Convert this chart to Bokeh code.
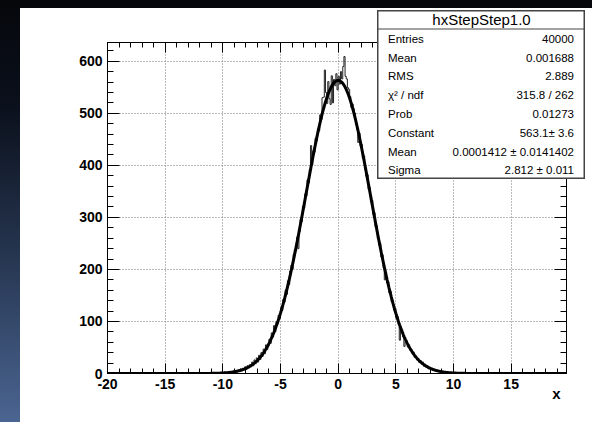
import numpy as np
from bokeh.plotting import figure
from bokeh.models import FixedTicker, LinearAxis, Range1d, Span, Div, ColumnDataSource
from bokeh.core.properties import value
from bokeh.layouts import row, column
from bokeh.embed import file_html
from bokeh.resources import INLINE

# ---------------- data ----------------
hist_title = "hxStepStep1.0"
x_ticks = [-20, -15, -10, -5, 0, 5, 10, 15]
y_ticks = [0, 100, 200, 300, 400, 500, 600]
x_label = "x"

bin_lo = -11.0
bin_width = 0.1
counts = [
    0, 0, 0, 1, 0, 0, 1, 0, 2, 0,
    1, 3, 1, 2, 1, 4, 2, 1, 3, 5,
    2, 6, 3, 7, 4, 9, 5, 10, 7, 13,
    8, 15, 11, 17, 13, 22, 15, 26, 19, 30,
    22, 35, 27, 40, 33, 47, 38, 55, 46, 52,
    66, 58, 78, 70, 92, 80, 99, 95, 112, 106,
    126, 121, 142, 137, 160, 152, 178, 171, 197, 208,
    201, 229, 238, 236, 262, 240, 272, 296, 292, 321,
    318, 345, 341, 372, 366, 392, 438, 401, 428, 425,
    452, 447, 470, 466, 497, 488, 530, 531, 583, 540,
    519, 561, 528, 517, 572, 520, 565, 553, 576, 545,
    571, 556, 580, 566, 590, 609, 571, 566, 549, 546,
    532, 511, 518, 509, 500, 478, 469, 444, 462, 437,
    440, 414, 418, 392, 379, 382, 354, 357, 330, 333,
    306, 309, 282, 284, 259, 247, 250, 224, 228, 203,
    180, 195, 174, 176, 155, 158, 138, 140, 122, 125,
    107, 110, 94, 64, 89, 84, 70, 52, 61, 63,
    51, 55, 45, 47, 38, 41, 31, 34, 26, 29,
    21, 25, 18, 22, 14, 18, 12, 15, 9, 12,
    8, 10, 6, 8, 5, 7, 4, 5, 3, 5,
    2, 3, 2, 3, 1, 2, 1, 2, 0, 1,
    2, 0, 1, 0, 1, 0, 0, 1, 0, 0,
]
hist_lo, hist_hi = -20.0, 20.0

fit_constant = 563.1
fit_mean = 0.0001412
fit_sigma = 2.812

stat_names = ["Entries", "Mean", "RMS", "\u03c7\u00b2 / ndf", "Prob", "Constant", "Mean", "Sigma"]
stat_values = ["40000", "0.001688", "2.889", "315.8 / 262", "0.01273",
               "563.1\u00b1 3.6", "0.0001412 \u00b1 0.0141402", "2.812 \u00b1 0.011"]

# ---------------- layout constants ----------------
x_lo, x_hi = -20.0, 19.8
y_lo, y_hi = 0.0, 636.0
FL, FT, FW, FH = 107, 42, 459, 331   # frame in page pixels
OX, OY = 20, 8                        # figure offset in page
FONT = "Liberation Sans"

p = figure(frame_width=FW, frame_height=FH,
           x_range=Range1d(x_lo, x_hi), y_range=Range1d(y_lo, y_hi),
           min_border_left=FL - OX, min_border_top=FT - OY,
           min_border_right=572 - (FL - OX) - FW, min_border_bottom=414 - (FT - OY) - FH,
           output_backend="svg", toolbar_location=None, margin=0)
p.background_fill_color = "white"
p.border_fill_color = "white"
p.outline_line_color = "black"

x_minor = list(range(-20, 20))
y_minor = list(range(0, 640, 20))

def style_axis(ax, ticks, minor, major_len, minor_len, labels=True):
    ax.ticker = FixedTicker(ticks=ticks, minor_ticks=minor)
    ax.major_tick_in = major_len
    ax.major_tick_out = 0
    ax.minor_tick_in = minor_len
    ax.minor_tick_out = 0
    ax.axis_line_color = "black"
    ax.major_tick_line_color = "black"
    ax.minor_tick_line_color = "black"
    ax.major_label_text_font = FONT
    ax.major_label_text_font_style = "bold"
    ax.major_label_text_color = "black"
    ax.major_label_text_font_size = "14px"
    ax.major_label_standoff = 5
    if labels:
        ax.major_label_overrides = {t: str(t) for t in ticks}
    else:
        ax.major_label_overrides = {t: "" for t in ticks}
        ax.major_label_standoff = 0

style_axis(p.xaxis[0], x_ticks, x_minor, 10, 5)
style_axis(p.yaxis[0], y_ticks, y_minor, 12, 6)
top_ax = LinearAxis()
style_axis(top_ax, x_ticks, x_minor, 10, 5, labels=False)
p.add_layout(top_ax, "above")
right_ax = LinearAxis()
style_axis(right_ax, y_ticks, y_minor, 12, 6, labels=False)
p.add_layout(right_ax, "right")

p.xgrid.ticker = FixedTicker(ticks=x_ticks)
p.ygrid.ticker = FixedTicker(ticks=y_ticks)
p.grid.grid_line_color = "#777777"
p.grid.grid_line_dash = "1 2"
p.grid.grid_line_width = 1

# histogram as steps
edges = [bin_lo + i * bin_width for i in range(len(counts) + 1)]
hx = [hist_lo] + edges + [hist_hi]
hy = [0] + list(counts) + [0, 0]
p.step(hx, hy, mode="after", line_color="#222222", line_width=1)

# fit function
fx = np.linspace(hist_lo, hist_hi, 1601)
fy = fit_constant * np.exp(-0.5 * ((fx - fit_mean) / fit_sigma) ** 2)
p.line(fx, fy, line_color="black", line_width=3)

# ---------------- stats box (overlay figure) ----------------
SBL, SBT, SBW, SBH = 377, 10, 208, 169
s = figure(width=SBW, height=SBH, x_range=Range1d(0, SBW), y_range=Range1d(SBH, 0),
           x_axis_type=None, y_axis_type=None, output_backend="svg",
           toolbar_location=None, min_border=0, margin=0)
s.grid.visible = False
s.background_fill_color = "white"
s.border_fill_color = "white"
s.outline_line_color = "#444444"
s.outline_line_width = 2
s.add_layout(Span(location=18.5, dimension="width", line_color="#444444", line_width=1))
s.text(x=[SBW / 2], y=[9], text=[hist_title], text_font=value(FONT),
       text_font_size=value("15px"), text_align="center", text_baseline="middle",
       text_color="black")
row_y = [28.3 + 18.8 * i for i in range(len(stat_names))]
src = ColumnDataSource(dict(y=row_y, name=stat_names, val=stat_values,
                            xl=[10.5] * len(row_y), xr=[196.5] * len(row_y)))
s.text(x="xl", y="y", text="name", source=src, text_font=value(FONT),
       text_font_size=value("11.5px"), text_align="left", text_baseline="middle",
       text_color="black")
s.text(x="xr", y="y", text="val", source=src, text_font=value(FONT),
       text_font_size=value("11.5px"), text_align="right", text_baseline="middle",
       text_color="black")
s_box = column(s, spacing=0, margin=0, width=SBW, height=SBH,
               styles={"position": "absolute", "left": f"{SBL}px", "top": f"{SBT}px",
                       "z-index": "10"})

# ---------------- x-axis title (overlay at the right end of the axis) ----------------
XL, XT, XW, XH = 546, 383, 20, 19
xf = figure(width=XW, height=XH, x_range=Range1d(0, XW), y_range=Range1d(XH, 0),
            x_axis_type=None, y_axis_type=None, output_backend="svg",
            toolbar_location=None, min_border=0, margin=0)
xf.grid.visible = False
xf.outline_line_color = None
xf.background_fill_color = "white"
xf.border_fill_color = "white"
xf.text(x=[XW / 2], y=[XH / 2], text=[x_label], text_font=value(FONT),
        text_font_size=value("15px"), text_font_style="bold", text_align="center",
        text_baseline="middle", text_color="black")
x_box = column(xf, spacing=0, margin=0, width=XW, height=XH,
               styles={"position": "absolute", "left": f"{XL}px", "top": f"{XT}px",
                       "z-index": "10"})

grad = "linear-gradient(to bottom, #05070b 0%, #0b101c 25%, #25354f 60%, #4b6592 100%)"
left_strip = Div(text="", width=OX, height=422, margin=0,
                 styles={"background": grad, "overflow": "hidden"})
top_strip = Div(text="", width=572, height=OY, margin=0,
                styles={"background": "#05070b", "overflow": "hidden"})
right_col = column(top_strip, p, spacing=0, margin=0)
layout = row(left_strip, right_col, s_box, x_box, spacing=0, margin=0,
             styles={"position": "relative"})

open("out.html", "w").write(file_html(layout, INLINE))
